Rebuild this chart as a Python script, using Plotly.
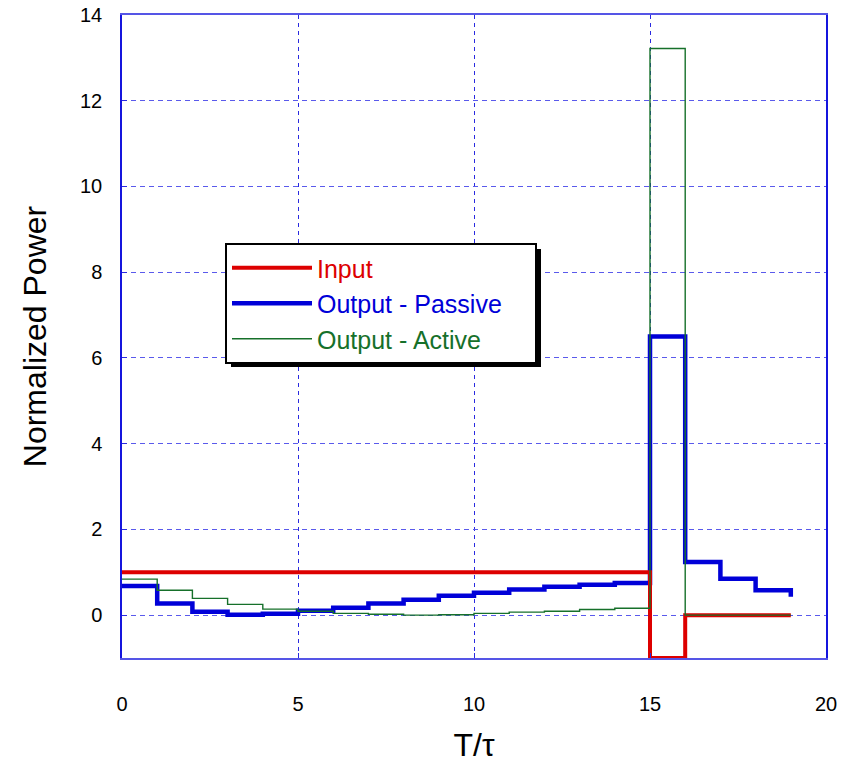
import plotly.graph_objects as go

# Step data: value at x[i] holds over [x[i], x[i+1]]
x_steps = list(range(0, 20))  # 0..19
passive = [0.68, 0.27, 0.08, 0.01, 0.03, 0.10, 0.17, 0.27, 0.36, 0.45,
           0.52, 0.60, 0.66, 0.71, 0.75, 6.50, 1.24, 0.85, 0.58, 0.43]
active = [0.84, 0.58, 0.39, 0.25, 0.14, 0.09, 0.04, 0.02, 0.00, 0.01,
          0.04, 0.07, 0.09, 0.13, 0.16, 13.22, 0.00, 0.00, 0.00, 0.00]
inp = [1, 1, 1, 1, 1, 1, 1, 1, 1, 1,
       1, 1, 1, 1, 1, -1, 0, 0, 0, 0]

RED = "#dd0000"
BLUE = "#0000d8"
GREEN = "#16702a"
FONT = "Liberation Sans, Arial, sans-serif"

fig = go.Figure()
fig.add_trace(go.Scatter(x=x_steps, y=passive, mode="lines", line_shape="hv",
                         line=dict(color=BLUE, width=4.5),
                         name=f'<span style="color:{BLUE}">Output - Passive\u00a0\u00a0\u00a0\u00a0</span>',
                         legendrank=2))
fig.add_trace(go.Scatter(x=x_steps, y=inp, mode="lines", line_shape="hv",
                         line=dict(color=RED, width=4),
                         name=f'<span style="color:{RED}">Input</span>',
                         legendrank=1))
fig.add_trace(go.Scatter(x=x_steps, y=active, mode="lines", line_shape="hv",
                         line=dict(color=GREEN, width=1.4),
                         name=f'<span style="color:{GREEN}">Output - Active</span>',
                         legendrank=3))

W, H = 849, 765
ml, mr, mt, mb = 122, 23, 15, 107
pw, ph = W - ml - mr, H - mt - mb

leg_left_px, leg_top_px = 225, 243
leg_w_px, leg_h_px = 310, 118
lx = (leg_left_px - ml) / pw
ly = 1 - (leg_top_px - mt) / ph

# legend drop shadow
sh = 6
fig.add_shape(type="rect", xref="paper", yref="paper",
              x0=(leg_left_px + sh - ml) / pw, x1=(leg_left_px + leg_w_px + sh - ml) / pw,
              y0=1 - (leg_top_px + leg_h_px + sh - mt) / ph, y1=1 - (leg_top_px + sh - mt) / ph,
              fillcolor="black", line=dict(width=0), layer="above")

fig.update_layout(
    width=W, height=H,
    margin=dict(l=ml, r=mr, t=mt, b=mb, autoexpand=False),
    paper_bgcolor="white", plot_bgcolor="white",
    font=dict(family=FONT, color="black"),
    showlegend=True,
    legend=dict(x=lx, y=ly, xanchor="left", yanchor="top",
                bgcolor="white", bordercolor="black", borderwidth=2,
                font=dict(size=25, family=FONT),
                itemwidth=80, tracegroupgap=0),
    xaxis=dict(range=[0, 20], tickvals=[0, 5, 10, 15, 20], automargin=False,
               showgrid=True, gridcolor="#2a2ae0", griddash="4px,4px", gridwidth=1,
               zeroline=False, showline=True, linecolor="#5555e6", linewidth=1.5, mirror=True,
               ticks="inside", ticklen=5, tickcolor="#2a2ae0",
               tickfont=dict(size=20), ticklabelstandoff=27,
               title=dict(text="T/τ", font=dict(size=32), standoff=20)),
    yaxis=dict(range=[-1, 14], tickvals=[0, 2, 4, 6, 8, 10, 12, 14], automargin=False,
               showgrid=True, gridcolor="#5a5aec", griddash="5px,4px", gridwidth=1,
               zeroline=False, showline=True, linecolor="#1515dd", linewidth=1.5, mirror=True,
               ticks="inside", ticklen=5, tickcolor="#2a2ae0",
               tickfont=dict(size=20), ticklabelstandoff=14,
               title=dict(text="Normalized Power", font=dict(size=32), standoff=24)),
)

fig.write_html("out.html")
